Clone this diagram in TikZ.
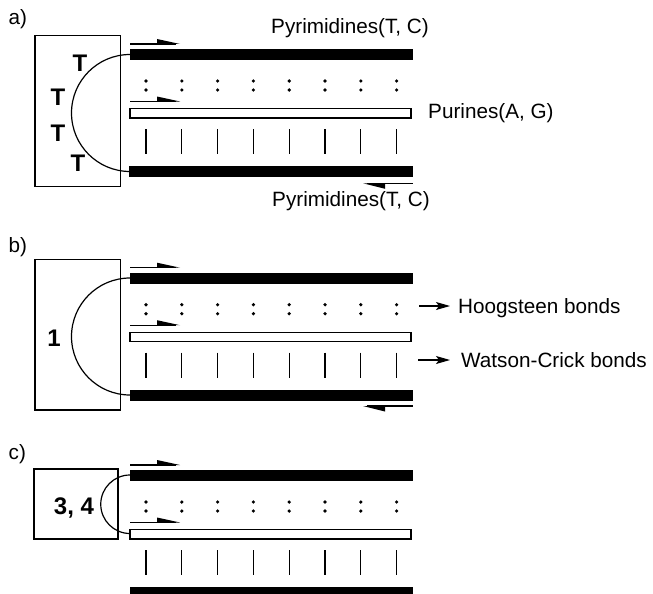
\documentclass[tikz,border=0pt]{standalone}
\usepackage{fontspec}
\setmainfont{Liberation Sans}
\usetikzlibrary{arrows.meta}
\newcommand\fwdarrow[1]{\draw[thinln] (130,{#1}) -- (176,{#1}); \fill (157,{#1-5}) -- (180,{#1}) -- (157,{#1}) -- cycle;}
\newcommand\revarrow[1]{\draw[thinln] (367,{#1}) -- (412.5,{#1}); \fill (385,{#1+5.5}) -- (363,{#1}) -- (385,{#1}) -- cycle;}
\newcommand\dnapanel[1]{%
  \fill (129.5,{#1}) rectangle (413,{#1+11});
  \fwdarrow{#1-5}
  \foreach \k in {0,...,7} {
    \fill ({146+35.8*\k},{#1+32}) circle (1.8pt);
    \fill ({146+35.8*\k},{#1+41}) circle (1.8pt);
    \draw[thinln] ({146+35.8*\k},{#1+80}) -- ({146+35.8*\k},{#1+105});
  }
  \fwdarrow{#1+52.5}
  \draw[thinln, fill=white] (130,{#1+59.5}) rectangle (411,{#1+69});
}
\begin{document}
\begin{tikzpicture}[x=1pt,y=-1pt,
  thinln/.style={line width=1.2pt},
  lbl/.style={font=\fontsize{20.7}{24}\selectfont, inner sep=0pt},
  blbl/.style={font=\fontsize{24}{28}\selectfont\bfseries, inner sep=0pt},
  box/.style={draw, line width=1.2pt, inner sep=0pt},
  ptr/.style={-{Stealth[length=14pt,width=8pt,inset=3pt]}, line width=1.2pt}]
\useasboundingbox (0,0) rectangle (653,594);

% ---------- panel a ----------
\node[lbl, anchor=base west] (la) at (8.5,25) {a)};
\node[box, minimum width=85.7pt, minimum height=151pt] (boxa) at (77.85,111.2) {};
\dnapanel{49}
\fill (128.5,166) rectangle (413,177);
\revarrow{183.3}
\draw[thinln] (130,54.5) arc[start angle=90, end angle=270, radius=58.5pt];
\node[blbl] (t1) at (80,63) {T};
\node[blbl] (t2) at (58,97) {T};
\node[blbl] (t3) at (58,133) {T};
\node[blbl] (t4) at (78,163) {T};
\node[lbl, anchor=base west] (pyrtop) at (271,34) {Pyrimidines(T, C)};
\node[lbl, anchor=base west] (pur) at (428,118) {Purines(A, G)};
\node[lbl, anchor=base west] (pyrbot) at (272,206) {Pyrimidines(T, C)};

% ---------- panel b ----------
\node[lbl, anchor=base west] (lb) at (8.5,252) {b)};
\node[box, minimum width=85.7pt, minimum height=150.7pt] (boxb) at (77.85,334.7) {};
\dnapanel{272.7}
\fill (129.5,390) rectangle (413,400.5);
\revarrow{406}
\draw[thinln] (130,278) arc[start angle=90, end angle=270, radius=58.5pt];
\node[blbl] (one) at (54,338) {1};
\node[lbl, anchor=base west] (hoog) at (458,313) {Hoogsteen bonds};
\node[lbl, anchor=base west] (wc) at (461,367) {Watson-Crick bonds};
\coordinate (hs) at (419,306);
\coordinate (ws) at (418,360);
\draw[ptr] (hs) -- ([xshift=-8pt]hoog.west |- hs);
\draw[ptr] (ws) -- ([xshift=-11pt]wc.west |- ws);

% ---------- panel c ----------
\node[lbl, anchor=base west] (lc) at (8.5,459) {c)};
\node[box, minimum width=84pt, minimum height=70pt] (boxc) at (76,504) {};
\dnapanel{470}
\fill (129.5,586.7) rectangle (413,594);
\draw[thinln] (130,475) arc[start angle=90, end angle=270, radius=29.25pt];
\node[blbl] (th) at (74,508) {3, 4};
\end{tikzpicture}
\end{document}
